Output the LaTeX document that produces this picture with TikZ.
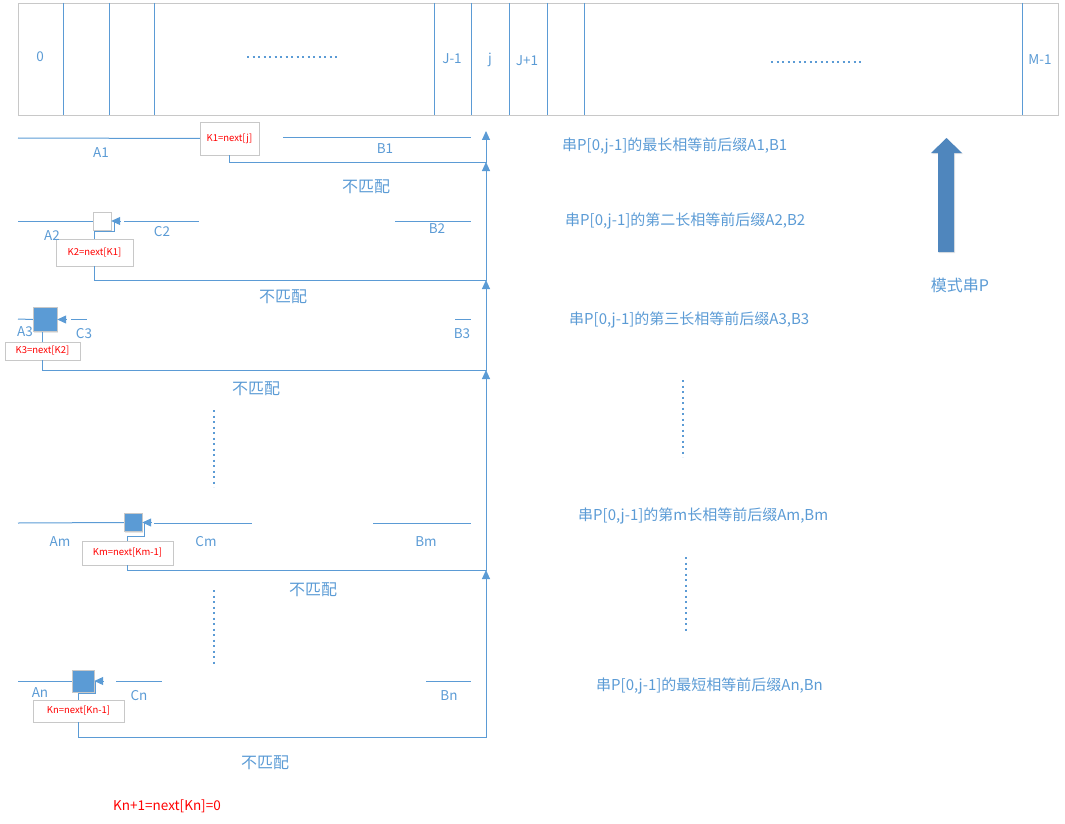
\documentclass[tikz,border=0pt]{standalone}
\usepackage{fontspec}
\setmainfont{Noto Sans CJK SC}
\usepackage{tikz}
\usetikzlibrary{arrows.meta, positioning, shadows}
\usepackage{xcolor}
\definecolor{lineblue}{HTML}{5B9BD5}
\definecolor{boxgray}{HTML}{C8C8C8}
\definecolor{bigblue}{HTML}{4F86BD}

\begin{document}
\begin{tikzpicture}[x=1pt, y=-1pt,
        seg/.style={lineblue, line width=1pt},
        conn/.style={lineblue, line width=1pt},
        upconn/.style={conn, -{Triangle[length=9pt, width=8pt]}},
        tipconn/.style={conn, -{Triangle[length=9pt, width=8pt]}},
        dots/.style={lineblue, line width=2.2pt, dash pattern=on 2.2pt off 3.3pt},
        soft/.style={drop shadow={shadow xshift=1pt, shadow yshift=-1pt, opacity=0.2}},
        kbox/.style={draw=boxgray, fill=white, soft, text=red, font=\fontsize{9.5}{10}\selectfont, inner sep=0pt},
        sqbox/.style={draw=boxgray, fill=lineblue, soft, minimum size=#1, inner sep=0pt},
        lbl/.style={text=lineblue, font=\fontsize{13.5}{14}\selectfont, inner sep=0pt},
        desc/.style={text=lineblue, font=\fontsize{15}{15}\selectfont, inner sep=0pt, anchor=west},
        mis/.style={text=lineblue, font=\fontsize{16}{16}\selectfont, inner sep=0pt}
    ]
        \useasboundingbox (0,0) rectangle (1065,824);

        % Pattern string P
        \draw[draw=boxgray, fill=white, soft] (18,3) rectangle (1058,115);
        \foreach \x in {63,109,154,434,471,509,547,584,1022}
            \draw[seg] (\x,3) -- (\x,115);
        \node[lbl] (c0)  at (40,57)   {0};
        \node[lbl] (cjm) at (452,59)  {J-1};
        \node[lbl] (cj)  at (490,60)  {j};
        \node[lbl] (cjp) at (527,61)  {J+1};
        \node[lbl] (cm)  at (1040,60) {M-1};
        \draw[dots] (247,57) -- (340,57);
        \draw[dots] (771,62) -- (863,62);

        % Junctions on the right line
        \coordinate (jtop) at (486,131);
        \coordinate (j1) at (486,162);
        \coordinate (j2) at (486,280);
        \coordinate (j3) at (486,370);
        \coordinate (jm) at (486,570);
        \coordinate (jn) at (486,737);

        % A1, B1
        \node[kbox, minimum width=59pt, minimum height=33pt] (k1) at (229.5,138.5) {K1=next[j]};
        \draw[seg] (18,138) -- (k1.west);
        \draw[seg] (283,138) -- (471,138);
        \node[lbl] (a1) at (101,153) {A1};
        \node[lbl] (b1) at (385,149) {B1};
        \draw[upconn] (k1.south) |- (j1) -- (jtop);
        \node[mis] (n1) at (366,187) {不匹配};

        % A2, B2
        \node[sqbox=18pt, fill=white] (s2) at (102,221) {};
        \node[kbox, minimum width=77pt, minimum height=27pt] (k2) at (94.5,252.5) {K2=next[K1]};
        \draw[seg] (18,221) -- (s2.west);
        \draw[seg] (124,221) -- (199,221);
        \draw[seg] (395,221) -- (471,221);
        \coordinate (t2) at ([xshift=9pt]s2.east);
        \draw[tipconn] (t2) -- (s2.east);
        \draw[conn] (k2.north) -- ++(0,-7) -| ([xshift=3pt]s2.east);
        \node[lbl] (a2) at (52,236) {A2};
        \node[lbl] (c2) at (162,232) {C2};
        \node[lbl] (b2) at (437,229) {B2};
        \draw[upconn] (k2.south) |- (j2) -- (j1);
        \node[mis] (n2) at (283,297) {不匹配};

        % A3, B3
        \node[sqbox=24pt] (s3) at (45,319.5) {};
        \node[kbox, minimum width=75pt, minimum height=18pt] (k3) at (42.5,351) {K3=next[K2]};
        \draw[seg] (18,319) -- (s3.west);
        \draw[seg] (71,319) -- (87,319);
        \draw[seg] (455,319) -- (471,319);
        \coordinate (t3) at ([xshift=9pt]s3.east);
        \draw[tipconn] (t3) -- (s3.east);
        \draw[conn] (k3.north) -- (k3.north |- s3.south);
        \node[lbl] (a3) at (25,332) {A3};
        \node[lbl] (c3) at (84,334) {C3};
        \node[lbl] (b3) at (462,334) {B3};
        \draw[upconn] (k3.south) |- (j3) -- (j2);
        \node[mis] (n3) at (256,389) {不匹配};

        \draw[dots] (214,410) -- (214,487);

        % Am, Bm
        \node[sqbox=18pt] (sm) at (133,522.5) {};
        \node[kbox, minimum width=91pt, minimum height=24pt] (km) at (127.5,553) {Km=next[Km-1]};
        \draw[seg] (18,523) -- (sm.west);
        \draw[seg] (154,523) -- (252,523);
        \draw[seg] (373,523) -- (471,523);
        \coordinate (tm) at ([xshift=9pt]sm.east);
        \draw[tipconn] (tm) -- (sm.east);
        \draw[conn] (km.north) -- ++(0,-4) -| ([xshift=2pt]sm.east);
        \node[lbl] (am) at (60,542) {Am};
        \node[lbl] (cmm) at (206,542) {Cm};
        \node[lbl] (bm) at (426,542) {Bm};
        \draw[upconn] (km.south) |- (jm) -- (j3);
        \node[mis] (nm) at (313,590) {不匹配};

        \draw[dots] (214,590) -- (214,665);

        % An, Bn
        \node[sqbox=22pt] (sn) at (83,681) {};
        \node[kbox, minimum width=91pt, minimum height=22pt] (kn) at (78.5,711) {Kn=next[Kn-1]};
        \draw[seg] (18,681) -- (sn.west);
        \draw[seg] (116,681) -- (162,681);
        \draw[seg] (426,681) -- (471,681);
        \coordinate (tn) at ([xshift=9pt]sn.east);
        \draw[tipconn] (tn) -- (sn.east);
        \draw[conn] (kn.north) -- ++(0,-6) -| ([xshift=1pt]sn.east);
        \node[lbl] (an) at (40,693) {An};
        \node[lbl] (cn) at (139,696) {Cn};
        \node[lbl] (bn) at (449,696) {Bn};
        \draw[upconn] (kn.south) |- (jn) -- (jm);
        \node[mis] (nn) at (265,763) {不匹配};

        \node[text=red, font=\fontsize{13.5}{14}\selectfont, inner sep=0pt] (k0) at (167,806) {Kn+1=next[Kn]=0};

        % Prefix/suffix notes
        \node[desc] (d1) at (562,146) {串P[0,j-1]的最长相等前后缀A1,B1};
        \node[desc] (d2) at (565,221) {串P[0,j-1]的第二长相等前后缀A2,B2};
        \node[desc] (d3) at (569,320) {串P[0,j-1]的第三长相等前后缀A3,B3};
        \node[desc] (dm) at (578,516) {串P[0,j-1]的第m长相等前后缀Am,Bm};
        \node[desc] (dn) at (596,686) {串P[0,j-1]的最短相等前后缀An,Bn};
        \draw[dots] (683,380) -- (683,457);
        \draw[dots] (686,557) -- (686,633);

        % Big arrow
        \fill[bigblue, soft] (938,252) -- (938,153) -- (931,153) -- (946.5,138) -- (962,153)
            -- (954,153) -- (954,252) -- cycle;
        \node[desc, anchor=center, font=\fontsize{16}{16}\selectfont] (pp) at (960,285) {模式串P};
    \end{tikzpicture}
\end{document}
